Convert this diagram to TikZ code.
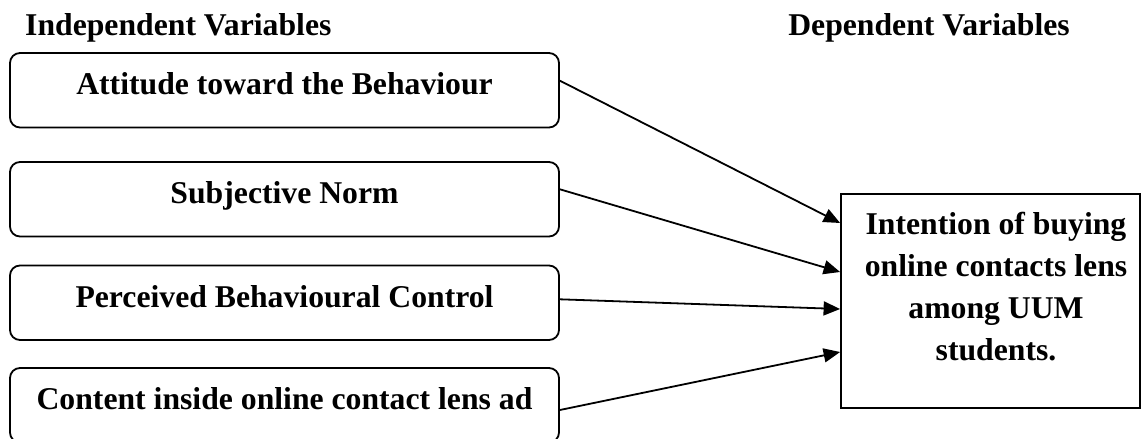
\documentclass[tikz,border=0pt]{standalone}
\usepackage{fontspec}
\setmainfont{Liberation Serif}
\usetikzlibrary{arrows.meta,calc}
\begin{document}
\begin{tikzpicture}[x=1pt,y=-1pt,
  every node/.style={font=\fontsize{31.7}{42.2}\selectfont\bfseries},
  ivbox/.style={draw=black, line width=1.8pt, rounded corners=10pt,
    minimum width=549pt, minimum height=74.5pt, inner sep=0pt,
    text height=20pt, text depth=11pt},
  dvbox/.style={draw=black, line width=1.8pt,
    minimum width=299pt, minimum height=214pt, inner sep=0pt},
  head/.style={inner sep=0pt},
  conn/.style={line width=1.8pt, -{Triangle[length=16.5pt,width=14pt]}}]
\useasboundingbox (0,0) rectangle (1141,439);
% headers
\node[head, anchor=base west] (hiv) at (25,35) {Independent Variables};
\node[head, anchor=base east] (hdv) at (1070,35) {Dependent Variables};
% independent variable boxes
\node[ivbox] (b1) at (284.5,90.25) {Attitude toward the Behaviour};
\node[ivbox] (b2) at (284.5,199.25) {Subjective Norm};
\node[ivbox] (b3) at (284.5,302.75) {Perceived Behavioural Control};
\node[ivbox] (b4) at (284.5,405.25) {Content inside online contact lens ad};
% dependent variable box
\node[dvbox] (dv) at (990.5,301) {};
\node[inner sep=0pt, align=center, anchor=north] (dvt) at (996,211.6)
  {Intention of buying\\online contacts lens\\among UUM\\students.};
% connectors
\draw[conn] ([yshift=9.55pt]b1.east) -- ([yshift=78pt]dv.west);
\draw[conn] ([yshift=9.95pt]b2.east) -- ([yshift=29pt]dv.west);
\draw[conn] ([yshift=3.45pt]b3.east) -- ([yshift=-8pt]dv.west);
\draw[conn] ([yshift=-4.75pt]b4.east) -- ([yshift=-51pt]dv.west);
\end{tikzpicture}
\end{document}
